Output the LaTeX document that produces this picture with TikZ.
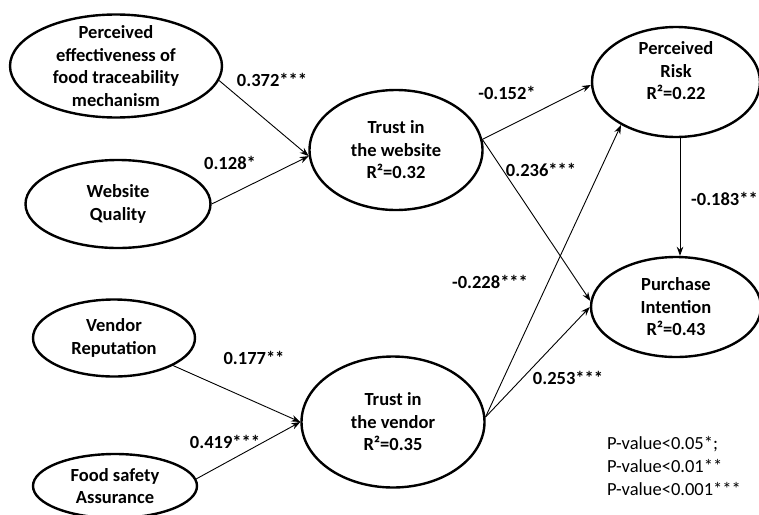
\documentclass[tikz,border=0pt]{standalone}
\usepackage{fontspec}
\setmainfont{Carlito}
\usetikzlibrary{arrows.meta,shapes.geometric}

\begin{document}
\begin{tikzpicture}[
        x=1pt, y=-1pt,
        construct/.style={draw, ellipse, line width=2.4pt, align=center, inner sep=0pt,
                    font=\fontsize{18.5}{22.5}\selectfont\bfseries},
        effect/.style={-{Stealth[length=9pt, width=6.5pt]}, line width=0.9pt},
        coef/.style={font=\fontsize{18.5}{22.5}\selectfont\bfseries, inner sep=0pt},
        note/.style={font=\fontsize{18.5}{23}\selectfont, align=left, inner sep=0pt}]

    \useasboundingbox (0,0) rectangle (759,514);

    \node[construct, minimum width=212pt, minimum height=103pt, inner ysep=-12pt] (pef) at (116,66)
        {Perceived\\effectiveness of\\food traceability\\mechanism};
    \node[construct, minimum width=185pt, minimum height=88pt]  (wq)  at (118,204) {Website\\Quality};
    \node[construct, minimum width=162pt, minimum height=77pt]  (vr)  at (114,338) {Vendor\\Reputation};
    \node[construct, minimum width=164pt, minimum height=64pt]  (fsa) at (115,486) {Food safety\\Assurance};
    \node[construct, minimum width=173pt, minimum height=120pt] (tw)  at (396,150) {Trust in\\the website\\R²=0.32};
    \node[construct, minimum width=183pt, minimum height=131pt] (tv)  at (393,422) {Trust in\\the vendor\\R²=0.35};
    \node[construct, minimum width=168pt, minimum height=110pt] (pr)  at (676,82)
        {\raisebox{5pt}[0pt][0pt]{\begin{tabular}{@{}c@{}}Perceived\\Risk\\R²=0.22\end{tabular}}};
    \node[construct, minimum width=170pt, minimum height=100pt] (pi)  at (676,307) {Purchase\\Intention\\R²=0.43};

    % --- antecedents of trust
    \draw[effect] (pef.-8)  -- (tw.184);
    \draw[effect] (wq.east) -- (tw.184);
    \draw[effect] (vr.-25)  -- (tv.west);
    \draw[effect] (fsa.5)   -- (tv.west);

    % --- trust to risk and intention
    \draw[effect] (tw.7) -- (pr.182);
    \draw[effect] (tw.7) -- (pi.176);
    \draw[effect] (tv.3) -- (pr.218);
    \draw[effect] (tv.3) -- (pi.west);
    \draw[effect] ([xshift=4pt]pr.south) -- ([xshift=4pt]pi.north);

    \node[coef] (c372) at (272,80)  {0.372***};
    \node[coef] (c128) at (230,163) {0.128*};
    \node[coef] (c177) at (254,358) {0.177**};
    \node[coef] (c419) at (225,442) {0.419***};
    \node[coef] (c152) at (507,93)  {-0.152*};
    \node[coef] (c236) at (541,170) {0.236***};
    \node[coef] (c228) at (490,282) {-0.228***};
    \node[coef] (c253) at (568,378) {0.253***};
    \node[coef, anchor=west] (c183) at (691,199) {-0.183**};

    \node[note, anchor=west] (pval) at (607,466) {P-value<0.05*;\\P-value<0.01**\\P-value<0.001***};

\end{tikzpicture}
\end{document}
